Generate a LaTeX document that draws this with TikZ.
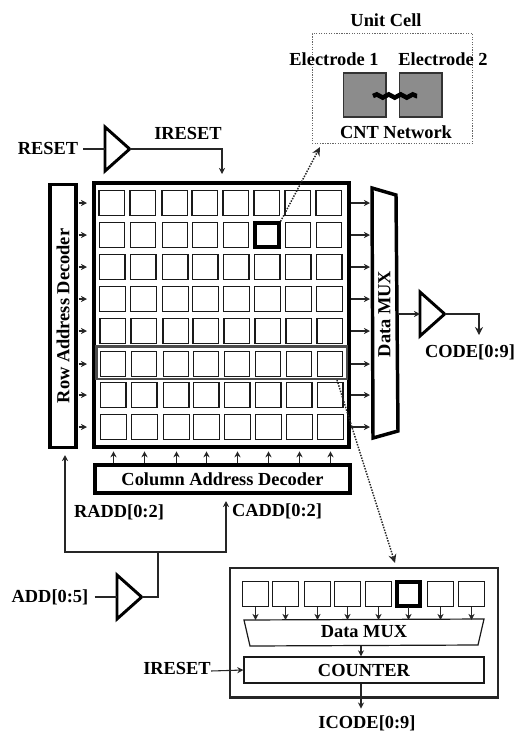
\documentclass[tikz,border=0pt]{standalone}
\usepackage{fontspec}
\setmainfont{Liberation Serif}
\usetikzlibrary{arrows.meta,shapes.geometric,decorations.pathmorphing}
\tikzset{
  >={Stealth[length=4.6pt,width=4.6pt]},
  lbl/.style={font=\fontsize{13.8}{15}\selectfont\bfseries,inner sep=0pt},
  cellbox/.style={draw=black!90,line width=0.9pt,minimum size=19pt,inner sep=0pt},
  hotcell/.style={draw=black,line width=2.8pt,minimum size=17.5pt,inner sep=0pt},
  heavy/.style={draw=black,line width=2.6pt,inner sep=0pt},
  plain/.style={draw=black!90,line width=0.9pt,inner sep=0pt},
  wire/.style={draw=black!85,line width=0.8pt},
  dots/.style={draw=black!85,line width=1.1pt,densely dotted,-{Stealth[length=6.5pt,width=6pt]}},
  buf/.style={draw=black,line width=2.2pt,isosceles triangle,isosceles triangle stretches,
    shape border rotate=0,minimum width=33pt,minimum height=18.5pt,inner sep=0pt,outer sep=0pt,anchor=west},
  metal/.style={draw=black!80,line width=1pt,fill=black!45,minimum width=32pt,minimum height=33pt,inner sep=0pt},
}
\begin{document}
\begin{tikzpicture}[x=0.75pt,y=-0.75pt]
  \useasboundingbox (0,0) rectangle (521,733);
  % main array
  \node[heavy,minimum width=191.5pt,minimum height=198pt] (array) at (221.5,315) {};
  \node[draw=black!70,line width=2pt,minimum width=188pt,minimum height=24.5pt,inner sep=0pt] (rowsel) at (221.5,362.5) {};
  \foreach \x [count=\c] in {99,130,162,192,223,254,285,316}
    \foreach \y [count=\r] in {190,222,254,286,318,351,382,414}
      \node[cellbox] (c\r-\c) at (\x+12.5+\r*0.25,\y+13) {};
  \node[hotcell] (hot) at (c2-6) {};
  % decoders
  \node[heavy,minimum width=19.5pt,minimum height=197pt] (rowdec) at (63,316) {};
  \node[lbl,rotate=90] (rowlbl) at (rowdec) {Row Address Decoder};
  \node[heavy,minimum width=191.5pt,minimum height=21pt] (coldec) at (222.5,479) {};
  \node[lbl] (collbl) at (coldec) {Column Address Decoder};
  % data mux
  \draw[black,line width=2.6pt,line join=miter] (372,188) -- (396,195) -- (398,431) -- (373,438) -- cycle;
  \node[lbl,rotate=90] (muxlbl) at (384.5,314) {Data MUX};
  \coordinate (muxin) at (370,300);
  \coordinate (muxout) at (398,314);
  \foreach \r in {1,...,8}{
    \draw[wire,->] (rowdec.east |- c\r-1) ++(1,0) -- (87,0 |- c\r-1);
    \draw[wire,->] (array.east |- c\r-8) -- (muxin |- c\r-8);
  }
  \foreach \c in {1,...,8}
    \draw[wire,->] (c8-\c |- coldec.north) -- ++(0,-12);
  % reset
  \node[lbl] (reset) at (48,148) {RESET};
  \node[buf] (rstbuf) at (105,149) {};
  \node[lbl] (ireset) at (188,133) {IRESET};
  \coordinate (rstin) at (222,174);
  \draw[wire] (reset.east) ++(5,1) -- (rstbuf.west);
  \draw[wire,->] (rstbuf.apex) -| (rstin);
  % unit cell
  \node[lbl] (unitlbl) at (386,20) {Unit Cell};
  \node[draw=black!60,line width=0.9pt,densely dotted,minimum width=120.5pt,minimum height=82pt,inner sep=0pt] (unitbox) at (392.5,88.5) {};
  \node[lbl] (el1) at (334,59) {Electrode 1};
  \node[lbl] (el2) at (443,59) {Electrode 2};
  \node[metal] (pad1) at (364.5,95) {};
  \node[metal] (pad2) at (420.5,95) {};
  \node[lbl] (cnt) at (396,132) {CNT Network};
  \coordinate (cnt1) at (373,96);
  \coordinate (cnt2) at (417,96);
  \draw[black,line width=3.4pt,decorate,decoration={snake,amplitude=1.2pt,segment length=9pt}] (cnt1) -- (cnt2);
  \coordinate (unittip) at (320,147);
  \draw[dots] (hot.north east) -- (unittip);
  % code output
  \node[buf] (codebuf) at (420,314) {};
  \node[lbl] (code) at (470,352) {CODE[0:9]};
  \coordinate (codeout) at (479,335);
  \draw[wire,->] (muxout) -- (codebuf.west);
  \draw[wire,-{Stealth[length=6pt,width=6pt]}] (codebuf.apex) -| (codeout);
  % address
  \node[lbl] (add) at (50,597) {ADD[0:5]};
  \node[buf] (addbuf) at (117,597) {};
  \node[lbl] (radd) at (119,512) {RADD[0:2]};
  \node[lbl] (cadd) at (277,511) {CADD[0:2]};
  \coordinate (addjoin) at (158,552);
  \coordinate (raddtip) at (65,455);
  \coordinate (caddtip) at (226,501);
  \draw[wire] (add.east) ++(6,0) -- (addbuf.west);
  \draw[wire] (addbuf.apex) -| (addjoin);
  \draw[wire,->] (addjoin) -| (raddtip);
  \draw[wire,->] (addjoin) -| (caddtip);
  % column read-out
  \node[draw=black!85,line width=2pt,minimum width=201pt,minimum height=97pt,inner sep=0pt] (readout) at (364,632.5) {};
  \foreach \x [count=\c] in {243,273,305,335,366,396,428,459}
    \node[cellbox] (r\c) at (\x+12.5,594) {};
  \node[hotcell] (rhot) at (r6) {};
  \draw[plain] (244,620) -- (484,619) -- (478,645) -- (250,646) -- cycle;
  \node[lbl] (rmux) at (364,632) {Data MUX};
  \coordinate (rmuxtop) at (364,620);
  \coordinate (rmuxbot) at (361,646);
  \foreach \c in {1,...,8}
    \draw[wire,->] (r\c.south) -- (r\c |- rmuxtop);
  \node[plain,minimum width=180pt,minimum height=19.5pt] (counter) at (364,670) {};
  \node[lbl] (cntlbl) at (counter) {COUNTER};
  \node[lbl] (ireset2) at (177,668) {IRESET};
  \node[lbl] (icode) at (367,723) {ICODE[0:9]};
  \draw[wire,->] (rmuxbot) -- (rmuxbot |- counter.north);
  \draw[wire,->] (ireset2.east) ++(0,3) -- (counter.west);
  \draw[wire,->] (rmuxbot |- counter.south) -- ++(0,25);
  \coordinate (rowtap) at (337,380);
  \coordinate (rtip) at (395,563);
  \draw[dots] (rowtap) -- (rtip);
\end{tikzpicture}
\end{document}
